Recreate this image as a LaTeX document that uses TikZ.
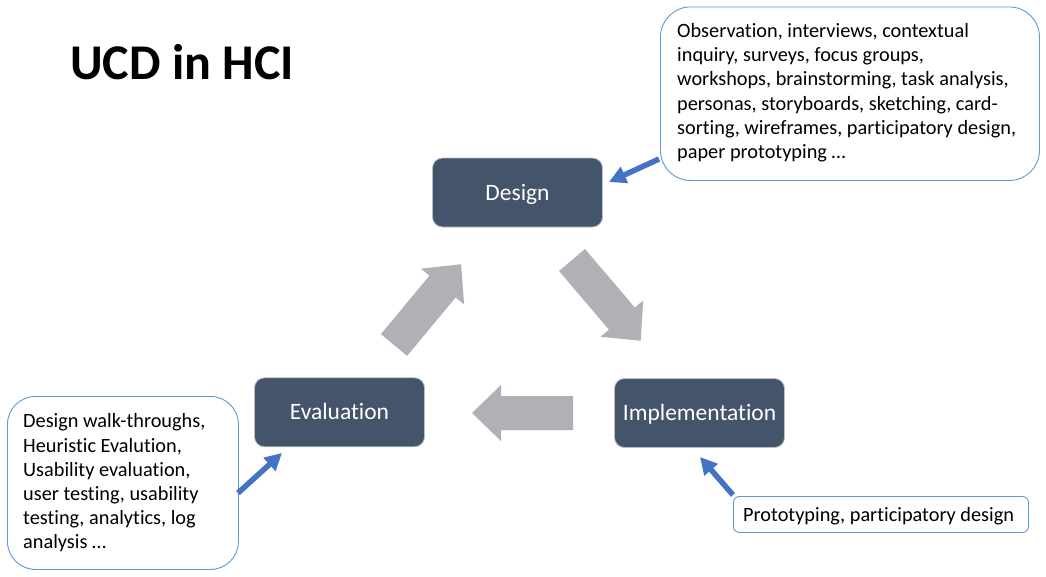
\documentclass[tikz,border=0pt]{standalone}
\usepackage{fontspec}
\setmainfont{Carlito}[Ligatures={NoCommon}]
\usetikzlibrary{arrows.meta}

\definecolor{boxfill}{HTML}{44546A}
\definecolor{boxedge}{HTML}{B8BEC7}
\definecolor{flowgray}{HTML}{AFB1B7}
\definecolor{noteblue}{HTML}{4472C4}
\definecolor{noteedge}{HTML}{5B9BD5}

% block arrow: tail x, tail y, angle, length
\newcommand{\flowarrow}[4]{%
  \fill[flowgray, shift={(#1,#2)}, rotate=#3]
    (0,-17) -- (#4-29,-17) -- (#4-29,-28) -- (#4,0) -- (#4-29,28) -- (#4-29,17) -- (0,17) -- cycle;}

\tikzset{
  stage/.style={rectangle, rounded corners=10pt, fill=boxfill, draw=boxedge, line width=0.8pt,
    text=white, font=\fontsize{23.5}{28}\selectfont, minimum width=170pt, minimum height=69pt,
    inner sep=0pt, text height=15pt, text depth=0pt},
  note/.style={rectangle, draw=noteedge, line width=0.9pt, fill=white, inner sep=0pt, anchor=north west},
  notetext/.style={font=\fontsize{20.3}{24.2}\selectfont, align=left, inner sep=0pt, anchor=north west},
  pointer/.style={draw=noteblue, line width=5.5pt, -{Triangle[length=17pt,width=17pt]}},
}

\begin{document}
\begin{tikzpicture}[x=1pt, y=-1pt]
\fill[white] (0,0) rectangle (1046,576);
\useasboundingbox (0,0) rectangle (1046,576);

% title
\node[font=\bfseries\fontsize{50}{60}\selectfont, anchor=base west, inner sep=0pt] (title) at (70,79) {UCD in HCI};

% cycle stages
\node[stage] (design) at (517.5,192.5) {Design};
\node[stage] (evaluation) at (339.5,412.3) {Evaluation};
\node[stage] (implementation) at (699.5,413) {Implementation};

% cycle arrows
\flowarrow{394}{345}{50.3}{105}
\flowarrow{572}{260}{-49.6}{106}
\flowarrow{573}{413}{180}{101}

% method notes
\node[note, rounded corners=30pt, minimum width=379pt, minimum height=173.5pt] (designnote) at (660,6.5) {};
\node[notetext] (designtext) at (677,21.3) {\rule{0pt}{16pt}Observation, interviews, contextual\\
inquiry, surveys, focus groups,\\
workshops, brainstorming, task analysis,\\
personas, storyboards, sketching, card-\\
sorting, wireframes, participatory design,\\
paper prototyping \dots};

\node[note, rounded corners=28pt, minimum width=231pt, minimum height=173pt] (evalnote) at (7,396) {};
\node[notetext] (evaltext) at (23,411.7) {\rule{0pt}{16pt}Design walk-throughs,\\
Heuristic Evalution,\\
Usability evaluation,\\
user testing, usability\\
testing, analytics, log\\
analysis \dots};

\node[note, rounded corners=6pt, minimum width=295pt, minimum height=36pt] (implnote) at (733,496) {};
\node[notetext, anchor=base west] (impltext) at (743,521) {Prototyping, participatory design};

% pointers from notes to stages
\coordinate (designfrom) at (659,159);
\coordinate (designto) at (609,182);
\coordinate (evalfrom) at (238,493);
\coordinate (evalto) at (282,453);
\coordinate (implfrom) at (733,495);
\coordinate (implto) at (700,457);
\draw[pointer] (designfrom) -- (designto);
\draw[pointer] (evalfrom) -- (evalto);
\draw[pointer] (implfrom) -- (implto);
\end{tikzpicture}
\end{document}
